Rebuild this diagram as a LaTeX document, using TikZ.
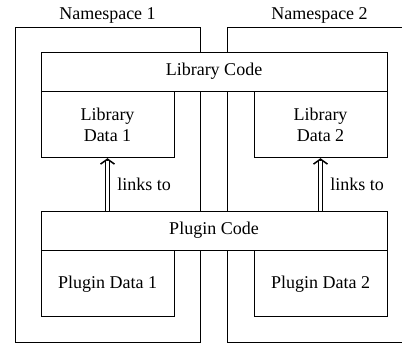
\documentclass[tikz,border=0pt]{standalone}
\usepackage{fontspec}
\setmainfont{Liberation Serif}
\usepackage{tikz}
\usetikzlibrary{arrows.meta,positioning}

\begin{document}
\begin{tikzpicture}[x=1pt,y=-1pt]
    \tikzstyle{every node}=[font=\fontsize{18}{21.6}\selectfont]
    \tikzstyle{nsbox}=[draw, line width=0.8pt, minimum width=185pt, minimum height=315pt, inner sep=0pt]
    \tikzstyle{codebox}=[draw, line width=0.8pt, fill=white, minimum width=346pt, minimum height=39pt, inner sep=0pt]
    \tikzstyle{databox}=[draw, line width=0.8pt, fill=white, minimum width=133pt, minimum height=66pt, inner sep=0pt, align=center]
    \tikzstyle{linkarrow}=[draw, line width=0.9pt, double, double distance=2.6pt, shorten >=1.5pt]
    \tikzstyle{linktip}=[draw, line width=1.5pt, -{Straight Barb[length=5pt, width=14pt]}]
    \clip (0,0) rectangle (402,345);
    % draw namespaces
    \node[nsbox, label={above:Namespace 1}] (ns1) at (107.5,184.5) {};
    \node[nsbox, label={above:Namespace 2}] (ns2) at (319.5,184.5) {};
    % draw library
    \node[codebox] (libcode) at (214,71.5) {Library Code};
    \node[databox, below right=0pt of libcode.south west] (libdata1) {Library\\Data 1};
    \node[databox, below left=0pt of libcode.south east] (libdata2) {Library\\Data 2};
    % draw plugin
    \node[codebox] (plugincode) at (214,230.5) {Plugin Code};
    \node[databox, below right=0pt of plugincode.south west] (plugindata1) {Plugin Data 1};
    \node[databox, below left=0pt of plugincode.south east] (plugindata2) {Plugin Data 2};
    % draw links
    \draw[linkarrow] (plugincode.north -| libdata1.south) -- node[right, xshift=6pt] (link1) {links to} (libdata1.south);
    \draw[linkarrow] (plugincode.north -| libdata2.south) -- node[right, xshift=6pt] (link2) {links to} (libdata2.south);
    \draw[linktip] ([yshift=-2pt]libdata1.south) -- (libdata1.south);
    \draw[linktip] ([yshift=-2pt]libdata2.south) -- (libdata2.south);
\end{tikzpicture}
\end{document}
